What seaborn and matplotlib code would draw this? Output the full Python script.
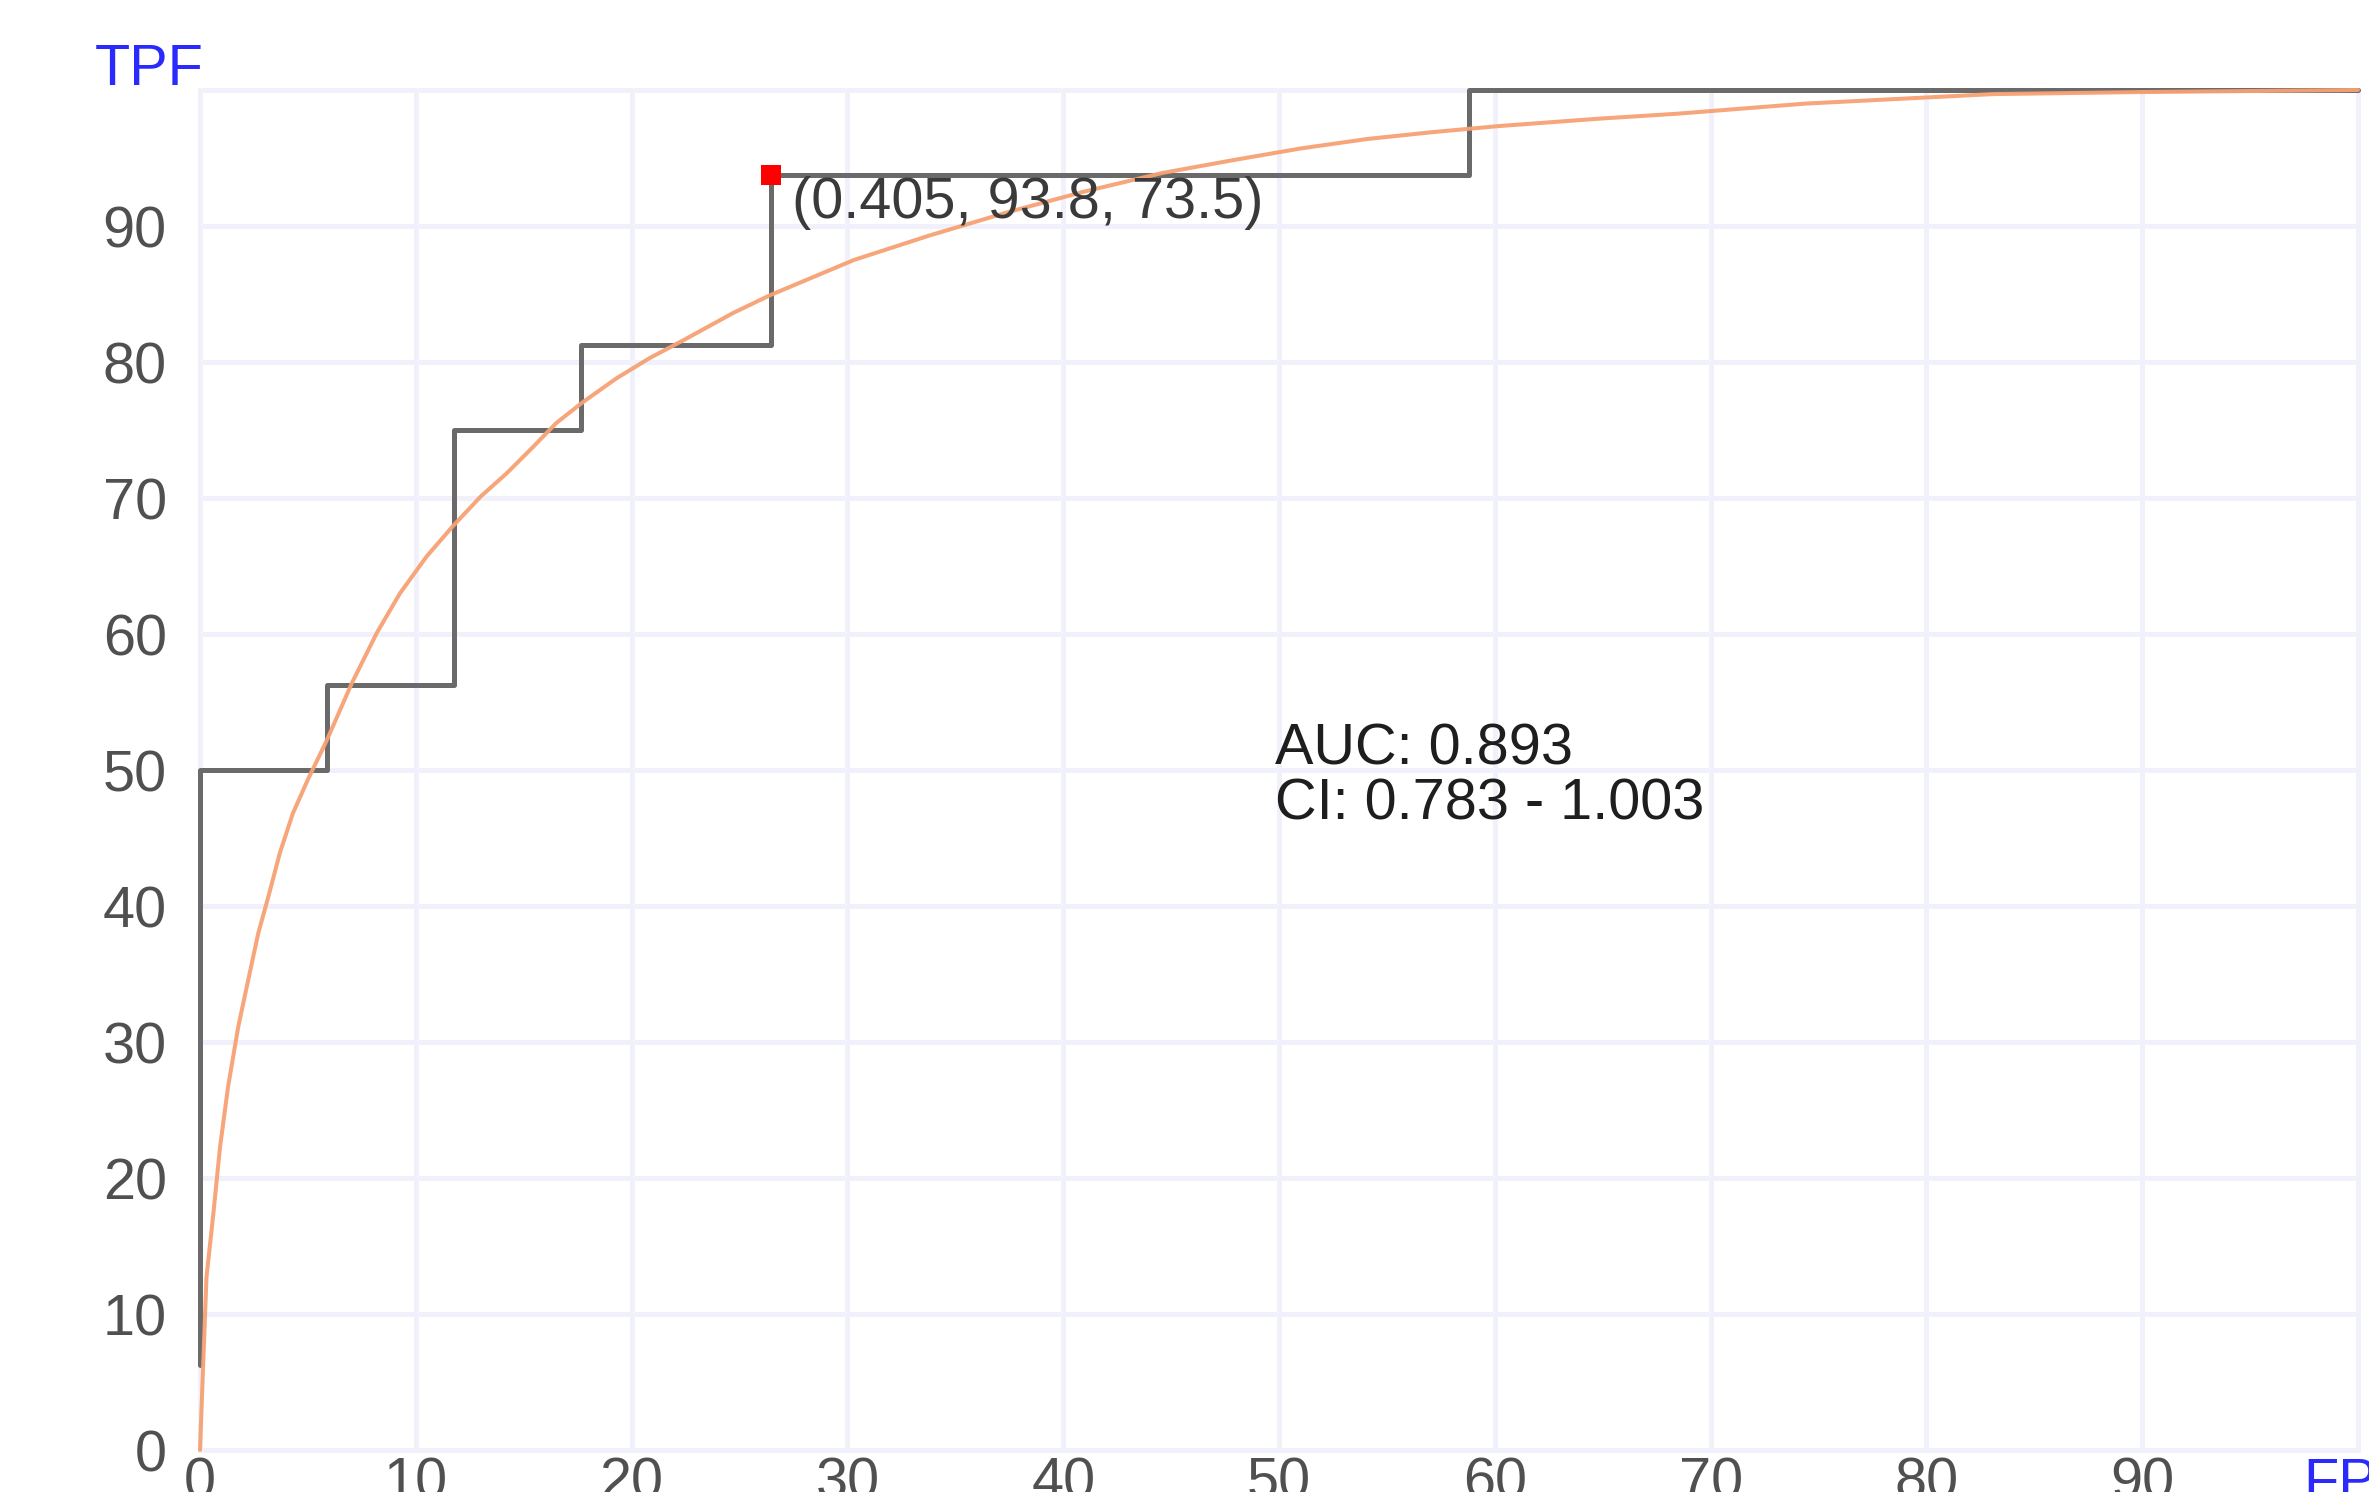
import matplotlib
matplotlib.use("Agg")
import matplotlib.pyplot as plt
import numpy as np
import pandas as pd
import seaborn as sns

# Empirical ROC (16 positives, 34 negatives), in percent
emp_fpf = [0.0, 0.0, 5.88, 11.76, 17.65, 26.47, 58.82, 100.0]
emp_tpf = [6.25, 50.0, 56.25, 75.0, 81.25, 93.75, 100.0, 100.0]

# Fitted (smooth) ROC curve, in percent
fit_fpf = [0.0, 0.15, 0.3, 0.62, 0.93, 1.3, 1.77, 2.24, 2.7, 3.17, 3.7, 4.3,
           5.0, 5.88, 7.04, 8.2, 9.27, 10.5, 11.7, 13.0, 14.2, 15.4, 16.5,
           17.7, 19.3, 20.85, 22.4, 24.7, 26.4, 30.3, 33.8, 37.4, 40.9, 44.6,
           47.9, 51.0, 54.1, 57.1, 60.2, 64.9, 68.4, 74.4, 83.1, 90.0, 100.0]
fit_tpf = [0.0, 6.4, 12.7, 17.4, 22.3, 26.7, 31.1, 34.6, 38.0, 40.7, 43.9, 46.8,
           49.3, 52.2, 56.4, 60.1, 63.0, 65.7, 67.9, 70.1, 71.8, 73.7, 75.5,
           77.0, 78.8, 80.3, 81.6, 83.6, 84.9, 87.5, 89.3, 91.0, 92.5, 93.9,
           94.85, 95.7, 96.4, 96.9, 97.35, 97.9, 98.25, 99.0, 99.7, 99.85, 100.0]

# Selected operating point: threshold, sensitivity, specificity
cut_threshold = 0.405
cut_tpf = 93.75
cut_spec = 73.53
cut_fpf = 100.0 - cut_spec

auc_value = 0.893
ci_low, ci_high = 0.783, 1.003

x_ticks = list(range(0, 101, 10))
x_labels = [str(v) for v in range(0, 91, 10)] + ["FPF"]
y_ticks = list(range(0, 91, 10))
y_labels = [str(v) for v in y_ticks]

sns.set_theme(style="white")
plt.rcParams["font.family"] = ["Liberation Sans", "DejaVu Sans"]

W, H = 2369, 1492
fig = plt.figure(figsize=(W / 100, H / 100), dpi=100)
fig.patch.set_facecolor("white")
ax = fig.add_axes([200 / W, 42 / H, 2158 / W, 1360 / H])
ax.set_facecolor("white")

grid_col = "#f1f1fb"
tick_col = "#505050"
blue = "#2a2aff"
fs = 41.5

emp = pd.DataFrame({"fpf": emp_fpf, "tpf": emp_tpf})
fit = pd.DataFrame({"fpf": fit_fpf, "tpf": fit_tpf})

sns.lineplot(data=emp, x="fpf", y="tpf", estimator=None, sort=False,
             drawstyle="steps-post", color="#6a6a6a", lw=3.6, ax=ax,
             clip_on=False, zorder=3)
sns.lineplot(data=fit, x="fpf", y="tpf", estimator=None, sort=False,
             color="#f6a173", lw=2.9, alpha=0.95, ax=ax, clip_on=False, zorder=4)
sns.scatterplot(x=[cut_fpf], y=[cut_tpf], marker="s", s=200, color="#ff0000",
                edgecolor="none", ax=ax, clip_on=False, zorder=6)

ax.text(cut_fpf + 0.95, cut_tpf - 0.05,
        f"({cut_threshold:.3f}, {cut_tpf:.1f}, {cut_spec:.1f})",
        ha="left", va="top", fontsize=fs, color="#3a3a3a", zorder=7)
ax.text(49.8, 53.5, f"AUC: {auc_value:.3f}", ha="left", va="top",
        fontsize=fs, color="#1e1e1e", zorder=7)
ax.text(49.8, 49.45, f"CI: {ci_low:.3f} - {ci_high:.3f}", ha="left", va="top",
        fontsize=fs, color="#1e1e1e", zorder=7)

ax.set_xlim(0, 100)
ax.set_ylim(0, 100)
ax.set_xticks(x_ticks)
ax.set_xticklabels(x_labels)
ax.set_yticks(y_ticks)
ax.set_yticklabels(y_labels)
ax.set_xlabel("")
ax.set_ylabel("")
ax.tick_params(axis="both", length=0, labelsize=fs, colors=tick_col)
ax.tick_params(axis="x", pad=5)
ax.tick_params(axis="y", pad=24)
ax.get_xticklabels()[-1].set_color(blue)

ax.set_axisbelow(True)
ax.grid(True, color=grid_col, lw=3.6)
for sp in ax.spines.values():
    sp.set_visible(True)
    sp.set_color(grid_col)
    sp.set_linewidth(3.6)

fig.text(95 / W, 1 - 43 / H, "TPF", ha="left", va="top", fontsize=fs, color=blue)

fig.savefig("out.png", dpi=100, facecolor="white")
